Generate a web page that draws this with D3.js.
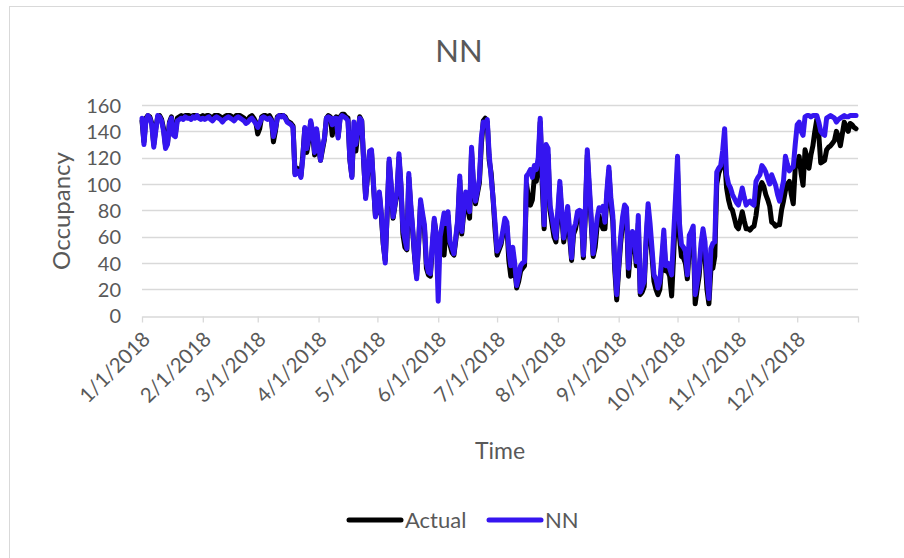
<!DOCTYPE html>
<html>
<head>
<meta charset="utf-8">
<script src="https://cdn.jsdelivr.net/npm/d3@7"></script>
<style>
  html, body { margin: 0; padding: 0; background: #fff; }
  svg { display: block; }
  text { font-family: Lato, "Open Sans", sans-serif; fill: #595959; }
</style>
</head>
<body>
<svg id="chart" width="904" height="558"></svg>
<script>
// Daily occupancy for 2018, one value per day starting on January 1.
const startDay = new Date(2018, 0, 1);
const endDay = new Date(2019, 0, 1);

const seriesNames = ["Actual", "NN"];
const seriesColors = ["#000000", "#3515f0"];
const yTicks = [0, 20, 40, 60, 80, 100, 120, 140, 160];

const actual = [
  // Jan
  148,132,150,152,151,146,130,142,151,152,149,142,129,131,147,151,139,138,150,151,152,151,152,152,152,151,152,152,152,151,151,
  // Feb
  152,151,152,152,151,150,152,152,152,151,149,151,152,152,152,151,150,152,152,152,151,150,148,149,151,152,150,147,
  // Mar
  138,142,151,152,152,151,152,149,132,140,151,152,152,152,151,148,147,146,144,108,112,110,106,122,142,124,133,147,138,122,140,
  // Apr
  128,118,126,134,150,152,151,137,149,151,136,151,153,153,151,150,118,106,140,125,138,151,148,117,90,106,124,124,99,76,
  // May
  80,92,76,54,42,78,117,98,74,84,92,120,98,62,52,50,105,82,64,44,30,54,85,75,66,36,31,30,52,72,62,
  // Jun
  48,58,66,46,68,76,54,48,46,58,72,103,62,78,92,82,74,125,98,85,93,101,130,148,150,147,118,108,88,65,
  // Jul
  46,50,54,62,70,68,42,30,48,36,21,26,34,36,38,100,90,84,88,105,102,112,147,100,66,125,122,80,70,60,56,
  // Aug
  75,98,75,56,66,78,60,42,62,66,74,76,74,44,76,122,95,70,45,52,68,76,70,66,66,90,110,85,72,35,12,
  // Sep
  35,55,70,80,78,30,50,60,55,38,70,16,18,22,55,80,62,45,26,20,16,20,40,58,34,34,30,15,45,80,
  // Oct
  110,60,45,44,40,28,50,58,62,9,20,30,50,60,45,20,9,35,36,45,100,108,112,118,120,97,88,82,80,74,68,
  // Nov
  66,72,79,72,66,66,65,67,68,76,88,97,101,98,92,88,83,71,70,68,69,69,80,87,95,100,102,92,85,112,
  // Dec
  115,121,108,99,126,120,112,122,129,140,149,138,116,117,118,126,128,129,131,133,140,136,129,138,147,143,140,146,145,143,142
];

const nn = [
  // Jan
  150,130,148,152,150,145,128,140,152,151,148,140,127,130,146,150,137,136,148,149,150,149,151,150,150,149,151,150,152,150,149,
  // Feb
  150,149,150,151,149,148,150,151,150,149,147,149,150,151,150,149,148,150,151,150,149,148,146,147,149,150,148,146,
  // Mar
  143,146,150,151,150,149,150,148,136,142,150,152,151,152,150,147,146,145,143,107,110,109,105,120,143,127,135,148,140,124,142,
  // Apr
  130,118,128,135,150,151,150,145,150,150,135,150,152,151,150,148,118,105,147,130,140,150,148,118,89,108,125,126,100,75,
  // May
  82,94,78,55,40,80,119,100,75,85,94,123,100,66,58,51,108,85,66,45,28,55,88,78,69,40,33,32,55,74,60,
  // Jun
  11,60,69,78,70,79,56,52,47,60,74,106,64,80,94,85,79,128,100,87,95,104,135,147,145,149,122,105,89,70,
  // Jul
  49,52,56,65,74,71,50,38,52,40,23,30,38,40,41,106,108,111,105,114,111,120,150,110,69,130,127,84,75,65,59,
  // Aug
  80,102,80,59,70,83,65,44,66,70,79,80,79,46,80,126,100,74,47,60,74,82,80,83,71,95,113,90,76,40,16,
  // Sep
  38,60,75,84,82,36,55,64,61,41,76,18,22,26,60,85,70,51,31,28,21,26,45,65,38,40,36,31,61,90,
  // Oct
  121,70,54,52,49,31,61,64,68,16,25,36,55,66,56,30,13,51,55,56,109,112,114,125,142,107,100,97,92,89,86,
  // Nov
  84,90,97,90,84,86,87,85,84,102,105,107,114,112,109,104,100,107,103,99,92,87,95,102,121,115,110,112,113,130,
  // Dec
  145,147,140,137,151,152,152,151,152,152,152,147,140,138,137,150,151,152,151,150,147,149,150,151,152,151,151,152,152,152,152
];

const svg = d3.select("#chart");

// outer chart frame
svg.append("rect")
  .attr("x", 9.5).attr("y", 6.5)
  .attr("width", 904).attr("height", 560)
  .attr("fill", "#fff").attr("stroke", "#d9d9d9").attr("stroke-width", 1);

const x = d3.scaleTime().domain([startDay, endDay]).range([142, 858]);
const y = d3.scaleLinear().domain([0, 160]).range([315.7, 105]);

// horizontal gridlines
svg.append("g")
  .selectAll("line")
  .data(yTicks.filter(v => v > 0))
  .join("line")
  .attr("x1", 142).attr("x2", 858)
  .attr("y1", d => Math.round(y(d)) + 0.5).attr("y2", d => Math.round(y(d)) + 0.5)
  .attr("stroke", "#d9d9d9").attr("stroke-width", 1.3);

// y axis labels
const yAxis = d3.axisLeft(y).tickValues(yTicks).tickSize(0).tickPadding(0);
const yG = svg.append("g").attr("transform", "translate(121,0)").call(yAxis);
yG.select(".domain").remove();
yG.selectAll("text")
  .attr("font-family", "Lato, 'Open Sans', sans-serif")
  .attr("font-size", 20).attr("fill", "#595959").attr("dy", "0.35em");

// x axis: baseline, month ticks and rotated date labels
const monthTicks = d3.timeMonth.range(startDay, d3.timeDay.offset(endDay, 1));
const fmt = d => (d.getMonth() + 1) + "/" + d.getDate() + "/" + d.getFullYear();
const xAxis = d3.axisBottom(x).tickValues(monthTicks).tickSize(6).tickSizeOuter(0)
  .tickFormat(d => d < endDay ? fmt(d) : "");
const xG = svg.append("g").attr("transform", `translate(0,${Math.round(y(0)) + 0.5})`).call(xAxis);
xG.select(".domain").attr("stroke", "#d9d9d9").attr("stroke-width", 1.3);
xG.selectAll(".tick line").attr("stroke", "#d9d9d9").attr("stroke-width", 1.3);
xG.selectAll("text")
  .attr("font-family", "Lato, 'Open Sans', sans-serif")
  .attr("font-size", 20.5).attr("fill", "#595959")
  .attr("text-anchor", "end")
  .attr("dy", 0).attr("y", 0)
  .attr("transform", "translate(9,24) rotate(-45)");

// series lines
const data = [actual, nn];
const line = d3.line()
  .x((v, i) => x(d3.timeDay.offset(startDay, i)))
  .y(v => y(v))
  .curve(d3.curveLinear);

svg.append("g")
  .selectAll("path")
  .data(data)
  .join("path")
  .attr("d", d => line(d))
  .attr("fill", "none")
  .attr("stroke", (d, i) => seriesColors[i])
  .attr("stroke-width", 5)
  .attr("stroke-linejoin", "round")
  .attr("stroke-linecap", "round");

// title and axis titles
svg.append("text")
  .attr("x", 459).attr("y", 62)
  .attr("text-anchor", "middle")
  .attr("font-size", 31)
  .text("NN");

svg.append("text")
  .attr("transform", "translate(70,211) rotate(-90)")
  .attr("text-anchor", "middle")
  .attr("font-size", 24)
  .text("Occupancy");

svg.append("text")
  .attr("x", 500).attr("y", 459)
  .attr("text-anchor", "middle")
  .attr("font-size", 23)
  .text("Time");

// legend
const legendX = [347, 487];
const legend = svg.append("g")
  .selectAll("g")
  .data(seriesNames)
  .join("g")
  .attr("transform", (d, i) => `translate(${legendX[i]},520)`);
legend.append("line")
  .attr("x1", 2).attr("x2", 54).attr("y1", 0).attr("y2", 0)
  .attr("stroke", (d, i) => seriesColors[i])
  .attr("stroke-width", 5).attr("stroke-linecap", "round");
legend.append("text")
  .attr("x", 58).attr("y", 0).attr("dy", "0.35em")
  .attr("font-size", 22)
  .text(d => d);
</script>
</body>
</html>
